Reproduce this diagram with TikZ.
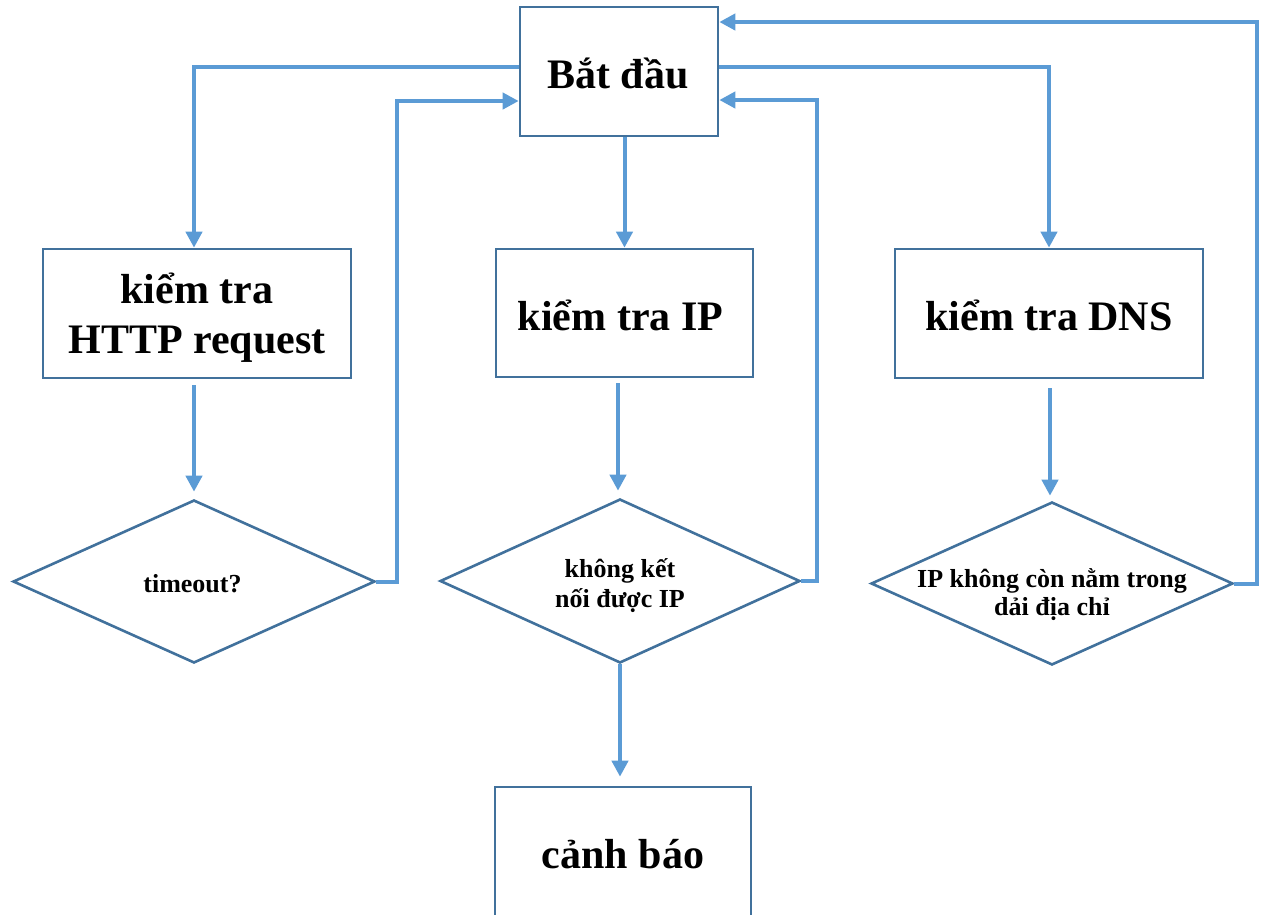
\documentclass[tikz,border=0pt]{standalone}
\usepackage{fontspec}
\setmainfont{Liberation Serif}
\usetikzlibrary{arrows.meta,shapes.geometric}
\definecolor{edgeblue}{HTML}{41719C}
\definecolor{flowblue}{HTML}{5B9BD5}

\begin{document}
\begin{tikzpicture}[x=1pt,y=-1pt,
  box/.style={draw=edgeblue, line width=2.6pt, rectangle, inner sep=0pt, fill=white},
  decision/.style={draw=edgeblue, line width=2.6pt, diamond, inner sep=0pt, fill=white},
  bigtext/.style={font=\fontsize{42}{50}\selectfont\bfseries, anchor=base, inner sep=0pt, text=black},
  dtext/.style={font=\fontsize{26}{30}\selectfont\bfseries, anchor=base, inner sep=0pt, text=black},
  flow/.style={draw=flowblue, line width=4pt, -{Triangle[length=16pt,width=16pt]}}
]
\useasboundingbox (0,0) rectangle (1264,914);
\clip (0,0) rectangle (1264,914);

% process boxes
\node[box, minimum width=198pt, minimum height=129pt] (start) at (619,71.5) {};
\node[box, minimum width=308pt, minimum height=129pt] (http) at (197,313.5) {};
\node[box, minimum width=257pt, minimum height=128pt] (ip) at (624.5,313) {};
\node[box, minimum width=308pt, minimum height=129pt] (dns) at (1049,313.5) {};
\node[box, minimum width=256pt, minimum height=200pt] (warn) at (623,887) {};

% decisions
\node[decision, minimum width=362pt, minimum height=163pt] (d1) at (194,581.5) {};
\node[decision, minimum width=360pt, minimum height=164pt] (d2) at (620,581) {};
\node[decision, minimum width=362pt, minimum height=163pt] (d3) at (1052,583.5) {};

% texts, set on their baselines
\node[bigtext] (startText) at ([xshift=-1pt,yshift=-16.5pt]start.center) {Bắt đầu};
\node[bigtext] (httpText) at ([yshift=10.5pt]http.center)
  {\begin{tabular}[t]{@{}c@{}}kiểm tra\\HTTP request\end{tabular}};
\node[bigtext] (ipText) at ([xshift=-4pt,yshift=-17pt]ip.center) {kiểm tra IP};
\node[bigtext] (dnsText) at ([yshift=-16.5pt]dns.center) {kiểm tra DNS};
\node[bigtext] (warnText) at ([yshift=19pt]warn.center) {cảnh báo};
\node[dtext] (d1Text) at ([xshift=-1.5pt,yshift=-10.5pt]d1.center) {timeout?};
\node[dtext] (d2Text) at ([yshift=4pt]d2.center)
  {\begin{tabular}[t]{@{}c@{}}không kết\\nối được IP\end{tabular}};
\node[dtext, font=\fontsize{26}{28}\selectfont\bfseries] (d3Text) at ([yshift=-3.5pt]d3.center)
  {\begin{tabular}[t]{@{}c@{}}IP không còn nằm trong\\dải địa chỉ\end{tabular}};

% outgoing branches from the start box
\draw[flow] ([yshift=4.5pt]start.west) -| ([xshift=-3pt]http.north);
\draw[flow] (ip.north |- start.south) -- (ip.north);
\draw[flow] ([yshift=4.5pt]start.east) -| (dns.north);

% checks to decisions
\draw[flow, shorten <=6pt, shorten >=7pt] (d1.north |- http.south) -- (d1.north);
\draw[flow, shorten <=5pt, shorten >=7pt] ([xshift=-2pt]d2.north |- ip.south) -- ([xshift=-2pt]d2.north);
\draw[flow, shorten <=9pt, shorten >=5pt] ([xshift=-2pt]d3.north |- dns.south) -- ([xshift=-2pt]d3.north);

% loops back to the start
\draw[flow] (d1.east) -- ++(21,0) |- ([yshift=-29.5pt]start.west);
\draw[flow] (d2.east) -- ++(16,0) |- ([yshift=-28.5pt]start.east);
\draw[flow] (d3.east) -- ++(23,0) |- ([yshift=49.5pt]start.east);

% alarm
\draw[flow, shorten >=9pt] (d2.south) -- (d2.south |- warn.north);
\end{tikzpicture}
\end{document}
